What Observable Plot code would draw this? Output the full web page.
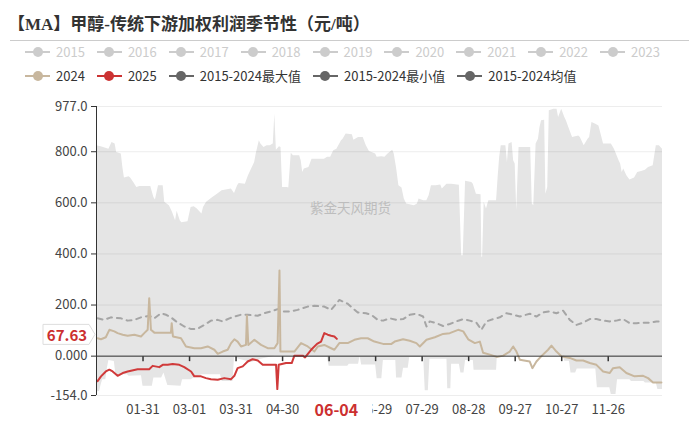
<!DOCTYPE html>
<html><head><meta charset="utf-8">
<script src="https://cdn.jsdelivr.net/npm/d3@7"></script>
<script src="https://cdn.jsdelivr.net/npm/@observablehq/plot@0.6"></script>
<style>
body{margin:0;background:#fff;}
#wrap{position:relative;width:700px;height:421px;overflow:hidden;font-family:"Noto Sans CJK SC","Noto Sans",sans-serif;}
#chart{position:absolute;left:0;top:0;z-index:1;}
#title{position:absolute;left:8px;top:10px;font-size:17px;font-weight:bold;color:#333;font-family:"Liberation Serif","Noto Sans CJK SC",serif;white-space:nowrap;z-index:2;}
#rule{position:absolute;left:10px;top:40px;width:679px;height:0;border-top:1.5px solid #ccc;z-index:2;}
.lrow{position:absolute;left:25px;display:flex;align-items:center;font-size:13px;white-space:nowrap;z-index:2;line-height:18px;}
.item{display:flex;align-items:center;margin-right:12px;}
.mk{position:relative;width:25px;height:10px;margin-right:6px;}
.mk .ln{position:absolute;left:0;right:0;top:4px;height:2px;}
.mk .dt{position:absolute;left:7.5px;top:0;width:10px;height:10px;border-radius:50%;}
#wm{position:absolute;left:310px;top:197px;font-size:13.5px;color:#bdbdbd;z-index:2;}
</style>
</head><body>
<div id="wrap">
  <div id="title">【MA】甲醇-传统下游加权利润季节性（元/吨）</div>
  <div id="rule"></div>
  <div class="lrow" id="row1" style="top:43px"></div>
  <div class="lrow" id="row2" style="top:67px"></div>
  <div id="wm">紫金天风期货</div>
</div>
<script>
// ---- legend ----
const legendRow1 = ["2015","2016","2017","2018","2019","2020","2021","2022","2023"];
const legendRow2 = ["2024","2025","2015-2024最大值","2015-2024最小值","2015-2024均值"];
const legendRow2Colors = ["#c8b79e","#cc3333","#666","#666","#666"];
const disabledColor = "#ccc";

// ---- axis ticks ----
const yTicks = [977, 800, 600, 400, 200, 0, -154];
const yTickLabels = ["977.0","800.0","600.0","400.0","200.0","0.000","-154.0"];
const xTickDays = [30,60,90,120,150,180,210,240,270,300,330];
// the 05-30 label (day 150) sits under the 06-04 pointer label, so it is left blank
const xTickLabels = ["01-31","03-01","03-31","04-30","","06-29","07-29","08-28","09-27","10-27","11-26"];
const pointerDay = 155, pointerDayLabel = "06-04";

// ---- series (day of year index, value) ----
const maxDays = [0,3,8,10,12,13,16,17,18,21,22,24,26,28,35,37,38,40,43,44,47,49,51,52,54,55,59,61,63,65,68,69,71,75,78,81,87,89,91,92,96,98,102,103,105,106,108,110,112,114,115,116,118,119,120,123,124,125.6,127,131,132,133,134,137,139,147,149,151,153,155,158,159,161,165,166,169,172,174,176,180,181,184,186,188,191,192,193.5,195,197,198.5,200,205,207,208,211,213,214.5,216,219,222,223,226,229,234,235.5,236.5,238,242,243,245,248,248.5,249,250,251.5,253,258,259,260,261,264,265,266,268,269,270,271,272.5,280,281,282,283.5,285,286,287,289,289.8,291,292,295,297,298,300,302,303,305,307,311,312,314.5,317,318,319.5,322,324,327,332,334,337,338,339,340,342,344,347,349,351.5,354,356,359,361,363,365];
const maxVals = [823,819,810,836,830,797,791,738,697,702,697,680,660,664,664,621,611,667,667,602,589,563,530,567,530,522,526,582,585,576,556,582,602,621,634,647,654,637,667,676,673,706,758,791,843,830,817,823,823,830,947,806,819,817,660,660,658,794,784,784,765,719,732,738,771,771,778,778,804,810,843,849,869,866,845,856,856,823,801,791,778,780,778,791,806,791,736,667,658,615,595,589,595,615,608,608,628,667,667,670,654,673,673,669,393,393,684,680,673,634,632,387,387,602,576,608,608,699,778,823,823,758,830,836,765,752,569,817,817,595,589,830,849,895,921,923,634,660,960,966,966,934,966,934,921,888,856,862,856,823,849,856,914,908,901,830,830,810,765,752,719,732,706,689,697,719,723,728,738,745,823,823,810];

const minDays = [0,2,3,4,6,7,8,11.5,12.5,20,21,29,30,36,37,42,43.5,46,54.5,55.5,61,63,68,80,81,88,89,92,100,106,115,136,137,149,150,162,163,169,170,171,180,181,184,185,193,193.5,197,198,201,202,211,212,214,215,226,226.5,228.5,229,234,235,237,238,243,243.5,258,258.5,301,302,305,306,309,310,322,323,331,332,335,336,344,345,353,354,361,362,365];
const minVals = [-140,-138,-112,-92,-92,-47,-17,-21,-73,-73,-79,-77,-118,-118,-86,-86,-66,-115,-118,-92,-92,-86,-73,-73,-99,-99,-5,-12,-25,-12,0,0,-5,-5,-40,-40,-32,-32,0,-35,-35,-88,-88,-17,-17,-86,-86,-47,-47,-5,-5,-135,-135,-12,-12,-128,-128,-32,-32,-66,-66,-17,-17,-55,-55,2,2,-20,-20,-66,-66,-50,-50,-124,-124,-150,-150,-92,-92,-99,-99,-105,-105,-131,-131];

const meanDays = [0.7,5,9.3,15.8,20.1,24.4,28.7,34,37.3,41.6,44.8,48,51.3,56.6,61,65.2,69.5,73.8,78.1,81.4,85.7,88.9,93.2,97.5,103.9,108.2,112.6,116.8,120.1,125.5,129.7,136.2,140.5,146.9,151.3,156.6,162,165.2,168.5,173.8,177.1,181.4,184.8,189.1,193.4,197.7,202,206.3,210.6,212.8,214.9,219.2,223.5,227.8,232.1,236.5,240.7,245,248.2,251.5,255.8,260.1,264.4,268.7,273,279.4,283.7,288,292.3,296.6,300.9,305.2,309.5,313.8,318.1,322.4,326.7,331,335.3,339.6,343.9,348.2,352.5,356.8,361.1,364.3];
const meanVals = [148,142,152,148,139,142,152,158,148,168,162,152,136,116,106,107,122,139,142,136,148,155,162,162,158,168,175,184,175,175,181,194,197,194,181,220,205,188,171,168,162,142,139,148,142,145,162,166,155,116,136,129,118,126,136,145,139,131,103,136,145,152,168,162,155,166,155,171,175,168,178,142,122,131,145,145,139,136,139,145,129,129,131,131,136,136];

const days2024 = [0.7,2.9,6,8.3,11.5,13.6,16.9,20.1,24.4,28.7,30.8,33,34,35.1,37.3,48,48.5,49.3,54.5,57.7,63.1,67.4,71.7,76,78.2,81.4,84.6,86.8,88.9,91,93.2,96.4,97,97.9,101.8,106.1,110.4,114.7,116.8,118,118.6,127.6,131.9,136.2,140.5,142.7,146.9,151.3,153.4,156.6,162,166.3,170.6,174.9,179.2,184.8,190.2,192.3,197.7,202,206.3,208.5,212.8,218.2,223.5,227.8,233.2,236.5,239.7,244,247.2,249.3,253.7,258,262.3,266.5,268.7,270.8,273,279.4,281.1,283.7,286.9,291.2,293.4,296.6,299.8,305.2,309.5,313.8,318.1,322.4,326.7,331,333.1,337.4,341.7,347,352.5,355.7,358.9,364.3];
const vals2024 = [70,66,74,103,97,90,84,80,84,77,90,103,227,103,92,92,129,77,70,38,31,31,38,25,9,18,25,51,66,57,38,44,159,44,64,44,31,31,51,335,18,18,51,38,18,38,44,31,25,51,51,64,70,70,57,48,48,57,66,60,51,38,64,74,87,90,103,97,66,51,57,13,6,-3,2,18,38,18,-14,-21,-47,-21,0,25,41,18,0,-7,-17,-17,-27,-34,-60,-66,-47,-43,-66,-79,-77,-86,-103,-103];

const days2025 = [0.7,2.9,6,8.3,10.4,13.6,16.9,20.1,26.5,34,36.2,40.5,42.7,45.9,49.1,53.4,56.6,61,63.1,67.4,70.6,73.8,78.2,82.4,86.8,88.9,91,94.3,97.5,100.7,104,107.2,115.8,116.6,117.5,122.2,125.9,127.6,133,134.5,138.4,142.2,144.8,146.9,149.1,151.3,153.4,155];
const vals2025 = [-98,-79,-60,-53,-60,-77,-66,-60,-51,-51,-38,-43,-34,-34,-31,-34,-43,-60,-79,-79,-86,-90,-92,-86,-90,-77,-47,-40,-21,-12,-17,-34,-34,-129,-34,-27,-27,2,2,-5,25,48,57,90,84,80,77,67.63];

// ---- legend build ----
function addItem(row, label, color, active) {
  const it = document.createElement("div"); it.className = "item";
  it.innerHTML = `<div class="mk"><div class="ln" style="background:${color}"></div><div class="dt" style="background:${color}"></div></div><span style="color:${active ? '#333' : disabledColor}">${label}</span>`;
  row.appendChild(it);
}
const r1 = document.getElementById("row1"), r2 = document.getElementById("row2");
legendRow1.forEach(l => addItem(r1, l, disabledColor, false));
legendRow2.forEach((l, i) => addItem(r2, l, legendRow2Colors[i], true));

// ---- chart ----
const rows = (ds, vs) => ds.map((d, i) => ({d, v: vs[i]}));
const yMin = d3.min(yTicks), yMax = d3.max(yTicks);
const yLab = new Map(yTicks.map((t, i) => [t, yTickLabels[i]]));
const xLab = new Map(xTickDays.map((t, i) => [t, xTickLabels[i]]));
const tickSym = {draw(ctx) { ctx.moveTo(0, 0); ctx.lineTo(0, 5); }};

const chart = Plot.plot({
  width: 700, height: 421,
  marginTop: 106, marginBottom: 26, marginLeft: 96, marginRight: 38,
  x: {domain: [0, 365], label: null},
  y: {domain: [yMin, yMax], label: null},
  style: {fontFamily: "'Noto Sans CJK SC','Noto Sans',sans-serif", fontSize: "13px", color: "#444", background: "transparent"},
  marks: [
    Plot.areaY(rows(maxDays, maxVals), {x: "d", y1: yMin, y2: "v", fill: "#e5e5e5"}),
    Plot.areaY(rows(minDays, minVals), {x: "d", y1: yMin, y2: "v", fill: "#fff"}),
    Plot.ruleY(yTicks, {stroke: "#000", strokeOpacity: 0.07}),
    Plot.lineY(rows(meanDays, meanVals), {x: "d", y: "v", stroke: "#a5a5a5", strokeWidth: 2, strokeDasharray: "5,5"}),
    Plot.lineY(rows(days2024, vals2024), {x: "d", y: "v", stroke: "#c8b79e", strokeWidth: 2}),
    Plot.lineY(rows(days2025, vals2025), {x: "d", y: "v", stroke: "#d03a3a", strokeWidth: 2}),
    Plot.ruleY([0], {stroke: "#333"}),
    Plot.ruleX([0], {stroke: "#333"}),
    Plot.dot(xTickDays, {x: d => d, y: 0, symbol: tickSym, stroke: "#333", fill: "none"}),
    Plot.axisY({ticks: yTicks, tickFormat: d => yLab.get(d), tickSize: 5, tickPadding: 4, stroke: "#333", fill: "#444", label: null}),
    Plot.axisX({ticks: xTickDays, tickFormat: d => xLab.get(d), tickSize: 0, tickPadding: 9, fill: "#444", label: null})
  ]
});
chart.id = "chart";
document.getElementById("wrap").prepend(chart);

// ---- axis pointer labels ----
const xs = chart.scale("x"), ys = chart.scale("y");
const svg = d3.select(chart);
const last = vals2025[vals2025.length - 1];
const px = xs.apply(pointerDay), py = ys.apply(last) - 4;
const x0 = xs.apply(0);
const g = svg.append("g");
g.append("rect").attr("x", px - 36).attr("y", 398).attr("width", 72).attr("height", 22).attr("fill", "#fff");
g.append("text").attr("x", px).attr("y", 409).attr("text-anchor", "middle").attr("dominant-baseline", "central")
  .attr("fill", "#cc2f2f").attr("font-weight", "bold").attr("font-size", 16).text(pointerDayLabel);
g.append("path").attr("d", `M${x0-53},${py-10}H${x0-7}L${x0-1},${py}L${x0-7},${py+10}H${x0-53}Z`)
  .attr("fill", "#fff").attr("stroke", "#ddd");
g.append("text").attr("x", x0 - 29).attr("y", py).attr("text-anchor", "middle").attr("dominant-baseline", "central")
  .attr("fill", "#cc2f2f").attr("font-weight", "bold").attr("font-size", 15).text(last.toFixed(2));
</script>
</body></html>
